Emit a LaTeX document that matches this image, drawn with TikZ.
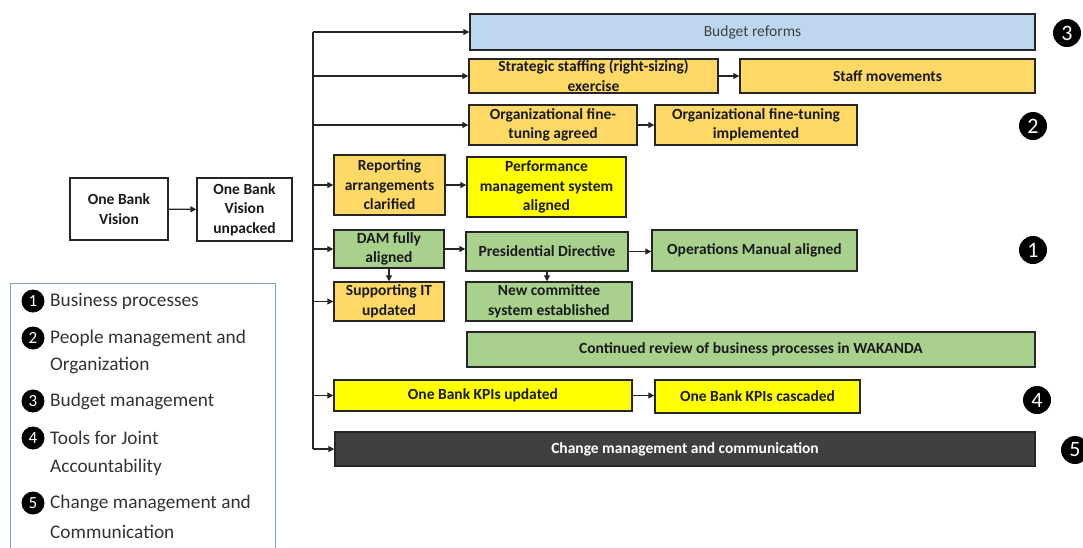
\documentclass[tikz,border=0pt]{standalone}
\usepackage{fontspec}
\setmainfont{Carlito}
\usetikzlibrary{arrows.meta}
\definecolor{cOrange}{HTML}{FFD966}
\definecolor{cGreen}{HTML}{A9D18E}
\definecolor{cYellow}{HTML}{FFFF00}
\definecolor{cBlue}{HTML}{BDD7EE}
\definecolor{cDark}{HTML}{404040}
\definecolor{cLine}{HTML}{262626}
\definecolor{cText}{HTML}{1A1A1A}
\definecolor{cLeg}{HTML}{333333}
\definecolor{cLegBorder}{HTML}{7F9FD6}
\newcommand\drawbox[7]{\node[box,#6,minimum width={#4-#2},minimum height={#5-#3}] (#1) at ({(#2+#4)/2},{(#3+#5)/2}) {#7};}
\begin{document}
\begin{tikzpicture}[x=1pt,y=-1pt,
  box/.style={draw=cLine, line width=1.4pt, inner sep=0pt, align=center,
    font=\fontsize{15.5}{19.5}\selectfont\bfseries, text=cText},
  arr/.style={-{Triangle[length=6pt,width=6pt]}, line width=1.3pt, draw=cLine},
  trunk/.style={line width=1.3pt, draw=cLine},
  num/.style={circle, fill=black, text=white, inner sep=0pt, minimum size=28pt,
    font=\fontsize{22}{22}\selectfont},
  lnum/.style={circle, fill=black, text=white, inner sep=0pt, minimum size=23pt,
    font=\fontsize{17}{17}\selectfont},
  leg/.style={anchor=west, inner sep=0pt, font=\fontsize{19.3}{27}\selectfont, text=cLeg}]
\useasboundingbox (0,0) rectangle (1083,547);

% boxes
\drawbox{vision}{70}{178}{168}{240}{fill=white}{One Bank\\Vision}
\drawbox{unpacked}{197}{178}{292}{241}{fill=white}{One Bank\\Vision\\unpacked}
\drawbox{budget}{470}{14}{1035}{50}{fill=cBlue,font=\fontsize{15.5}{19.5}\selectfont,text=cDark}{Budget reforms}
\drawbox{strat}{469}{59}{718}{93}{fill=cOrange}{Strategic staffing (right-sizing)\\exercise}
\drawbox{staff}{740}{59}{1035}{93}{fill=cOrange}{Staff movements}
\drawbox{orgagr}{469}{105}{637}{145}{fill=cOrange}{Organizational fine-\\tuning agreed}
\drawbox{orgimp}{655}{105}{857}{145}{fill=cOrange}{Organizational fine-tuning\\implemented}
\drawbox{report}{334}{155}{445}{215}{fill=cOrange}{Reporting\\arrangements\\clarified}
\drawbox{perf}{467}{157}{626}{217}{fill=cYellow}{Performance\\management system\\aligned}
\drawbox{dam}{334}{230}{444}{268}{fill=cGreen}{DAM fully\\aligned}
\drawbox{pres}{466}{232}{628}{271}{fill=cGreen}{Presidential Directive}
\drawbox{ops}{652}{230}{857}{271}{fill=cGreen}{Operations Manual aligned}
\drawbox{suppit}{334}{282}{444}{321}{fill=cOrange}{Supporting IT\\updated}
\drawbox{newcom}{466}{282}{632}{321}{fill=cGreen}{New committee\\system established}
\drawbox{review}{467}{332}{1035}{367}{fill=cGreen}{Continued review of business processes in WAKANDA}
\drawbox{kpiup}{334}{380}{632}{411}{fill=cYellow}{One Bank KPIs updated}
\drawbox{kpicas}{655}{380}{860}{413}{fill=cYellow}{One Bank KPIs cascaded}
\drawbox{change}{335}{432}{1035}{466}{fill=cDark,text=white}{Change management and communication}

% trunk and branches
\coordinate (ttop) at (313,33);
\draw[trunk] (ttop |- budget.west) -- (ttop |- change.west);
\foreach \n in {budget,strat,orgagr,report,dam,suppit,kpiup,change}
  \draw[arr] (ttop |- \n.west) -- (\n.west);

% other connectors
\draw[arr] (vision) -- (unpacked);
\draw[arr] (strat.east) -- (strat.east -| staff.west);
\draw[arr] (orgagr.east) -- (orgagr.east -| orgimp.west);
\draw[arr] (report.east) -- (report.east -| perf.west);
\draw[arr] (dam.east) -- (dam.east -| pres.west);
\draw[arr] (pres.east) -- (pres.east -| ops.west);
\draw[arr] (kpiup.east) -- (kpiup.east -| kpicas.west);
\draw[arr] (dam.south) -- (dam.south |- suppit.north);
\draw[arr] (pres.south) -- (pres.south |- newcom.north);

% numbers on the right
\node[num] (n3) at (1067,33) {3};
\node[num] (n2) at (1033,126) {2};
\node[num] (n1) at (1033,250) {1};
\node[num] (n4) at (1037,400) {4};
\node[num] (n5) at (1075,450) {5};

% legend
\node[draw=cLegBorder, line width=0.9pt, inner sep=0pt, minimum width=265, minimum height=280] (legend) at (142.5,423) {};
\node[lnum] (l1) at (33,301) {1};
\node[leg] (t1) at (50,301) {Business processes};
\node[lnum] (l2) at (33,338) {2};
\node[leg] (t2a) at (50,338) {People management and};
\node[leg] (t2b) at (50,365) {Organization};
\node[lnum] (l3) at (33,401) {3};
\node[leg] (t3) at (50,401) {Budget management};
\node[lnum] (l4) at (33,438) {4};
\node[leg] (t4a) at (50,438) {Tools for Joint};
\node[leg] (t4b) at (50,467) {Accountability};
\node[lnum] (l5) at (33,503) {5};
\node[leg] (t5a) at (50,503) {Change management and};
\node[leg] (t5b) at (50,532) {Communication};
\end{tikzpicture}
\end{document}
